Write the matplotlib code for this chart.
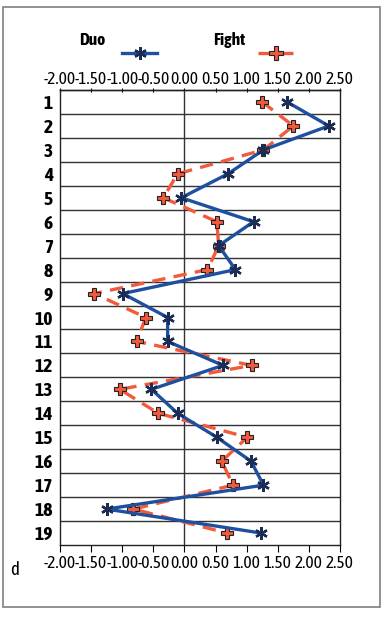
import numpy as np
import matplotlib
matplotlib.use('Agg')
import matplotlib.pyplot as plt
from matplotlib.lines import Line2D
from matplotlib.patches import Rectangle

# --- data ---
rows = list(range(1, 20))
duo = [1.65, 2.32, 1.27, 0.70, -0.05, 1.11, 0.55, 0.82, -0.99, -0.27,
       -0.27, 0.62, -0.53, -0.11, 0.52, 1.07, 1.27, -1.25, 1.23]
fight = [1.25, 1.75, 1.27, -0.11, -0.34, 0.52, 0.55, 0.37, -1.45, -0.62,
         -0.77, 1.08, -1.04, -0.42, 1.01, 0.60, 0.78, -0.82, 0.68]
xticks = [-2.0, -1.5, -1.0, -0.5, 0.0, 0.5, 1.0, 1.5, 2.0, 2.5]

BLUE = '#1f4f9f'
NAVY = '#1b2c55'
RED = '#f25a3c'

plt.rcParams['font.family'] = ['Asap Condensed', 'Archivo Narrow', 'DejaVu Sans']

W, H = 382, 624
fig = plt.figure(figsize=(W / 100, H / 100), dpi=100)
ax = fig.add_axes([60 / W, 1 - 545 / H, 280 / W, 455 / H])

ax.plot(duo, rows, '-', color=BLUE, lw=2.4, marker=(6, 2, 0), ms=9,
        mec=NAVY, mew=1.7, zorder=4)
ax.plot(fight, rows, '--', color=RED, lw=2.4, dashes=(4, 2.5), marker='P',
        ms=9, mfc=RED, mec='#222222', mew=0.8, zorder=3)

ax.set_xlim(-2.0, 2.5)
ax.set_ylim(19.5, 0.5)
xlabels = [f'{v:.2f}' for v in xticks]
ax.set_xticks(xticks)
ax.set_xticklabels(xlabels)
ax.set_yticks(rows)
ax.set_yticklabels([str(r) for r in rows], fontweight='bold', fontsize=14)

# top axis with its own (shorter) ticks
top = ax.secondary_xaxis('top')
top.set_xticks(xticks)
top.set_xticklabels(xlabels)
top.tick_params(direction='inout', length=3, width=0.8, labelsize=12.5, pad=0)

# category boundary lines and the zero line
for b in np.arange(1.5, 19.5, 1.0):
    ax.axhline(b, color='#333333', lw=1.0, zorder=1)
ax.axvline(0, color='#333333', lw=1.0, zorder=1)

ax.tick_params(axis='x', direction='out', length=5, width=0.8,
               labelsize=12.5, pad=2)
ax.tick_params(axis='y', length=0, pad=5)
for s in list(ax.spines.values()) + [top.spines['top']]:
    s.set_color('#222222')
    s.set_linewidth(1.0)

# legend keys drawn in figure pixels
def px(x, y):
    return x / W, 1 - y / H

fig.text(*px(79, 40), 'Duo', fontsize=12.5, fontweight='bold', va='center')
fig.text(*px(213, 40), 'Fight', fontsize=12.5, fontweight='bold', va='center')
fig.add_artist(Line2D([px(122, 0)[0], px(157, 0)[0]], [px(0, 53)[1]] * 2,
                      color=BLUE, lw=2.4))
fig.add_artist(Line2D([px(139.5, 0)[0]], [px(0, 53)[1]], marker=(6, 2, 0),
                      ms=9, mec=NAVY, mew=1.7, ls='none'))
fig.add_artist(Line2D([px(258, 0)[0], px(293, 0)[0]], [px(0, 53)[1]] * 2,
                      color=RED, lw=2.4, ls='--', dashes=(4, 2.5)))
fig.add_artist(Line2D([px(275.5, 0)[0]], [px(0, 53)[1]], marker='P', ms=10,
                      mfc=RED, mec='#222222', mew=0.8, ls='none'))

fig.text(*px(10, 570), 'd', fontsize=13.5, va='center')

# outer grey frame
fig.add_artist(Rectangle(px(3, 607), 377 / W, 600 / H, fill=False,
                         edgecolor='#7f7f7f', lw=1.2, transform=fig.transFigure))

fig.savefig('out.png', dpi=100)
